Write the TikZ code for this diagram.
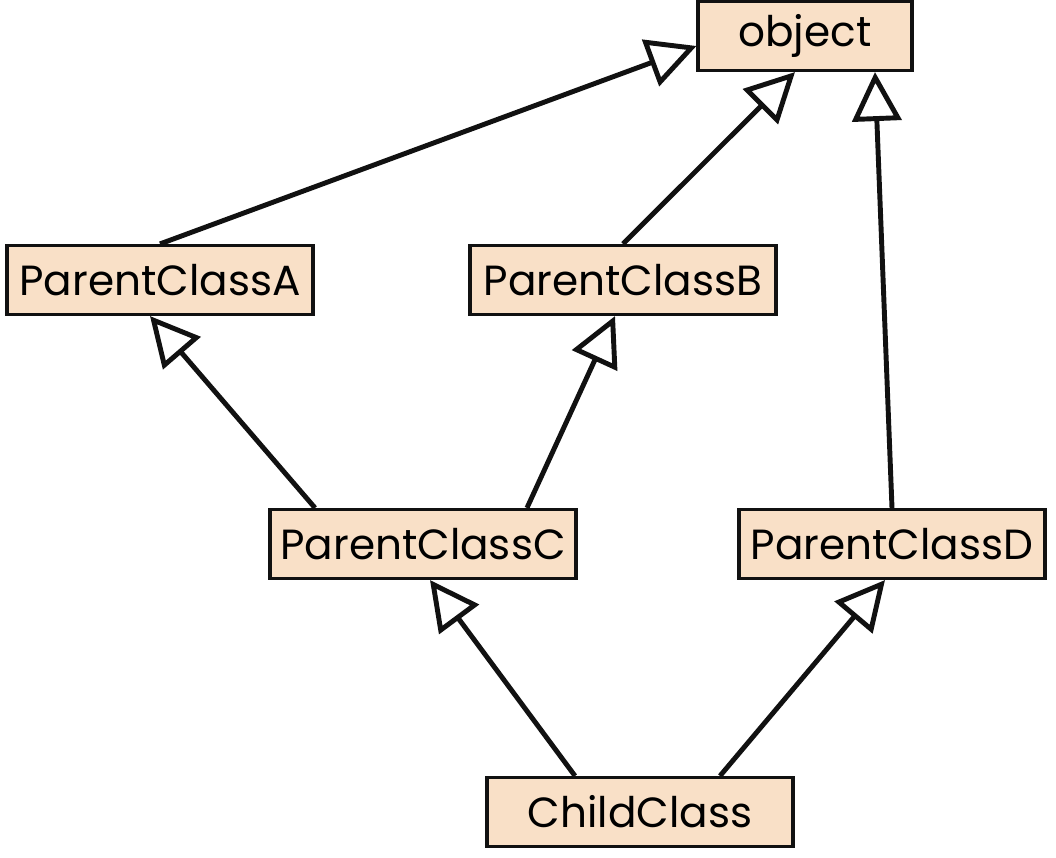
\documentclass[tikz,border=0pt]{standalone}
\usepackage{fontspec}
\setmainfont{Poppins}
\usepackage{tikz}
\usetikzlibrary{arrows.meta,positioning}
\definecolor{boxpeach}{HTML}{F9E0C7}
\definecolor{inkblack}{HTML}{111111}

\begin{document}
\begin{tikzpicture}[x=0.02cm, y=-0.02cm,
  cls/.style={draw=inkblack, line width=1.8pt, fill=boxpeach, minimum width=6.12cm, minimum height=1.38cm, inner sep=0pt, font=\fontsize{24}{27}\selectfont},
  inh/.style={-{Triangle[open, length=0.98cm, width=0.98cm]}, draw=inkblack, line width=2.8pt}]
\useasboundingbox (0,0) rectangle (1056,858);
\node[cls, minimum width=4.28cm] (obj) at (805,36)  {object};
\node[cls] (pa) at (160,280) {ParentClassA};
\node[cls] (pb) at (623,280) {ParentClassB};
\node[cls] (pc) at (423,544) {ParentClassC};
\node[cls] (pd) at (892,544) {ParentClassD};
\node[cls] (ch) at (640,812) {ChildClass};
% inheritance arrows
\draw[inh] (pa.north) -- ([yshift=-0.2cm]obj.west);
\draw[inh] (pb.north) -- ([xshift=-0.2cm]obj.south);
\draw[inh] (pd.north) -- ([xshift=1.4cm]obj.south);
\draw[inh] ([xshift=-2.16cm]pc.north) -- ([xshift=-0.2cm]pa.south);
\draw[inh] ([xshift=2.08cm]pc.north) -- ([xshift=-0.16cm]pb.south);
\draw[inh] ([xshift=-1.3cm]ch.north) -- ([xshift=0.14cm]pc.south);
\draw[inh] ([xshift=1.6cm]ch.north) -- ([xshift=-0.14cm]pd.south);
\end{tikzpicture}
\end{document}
